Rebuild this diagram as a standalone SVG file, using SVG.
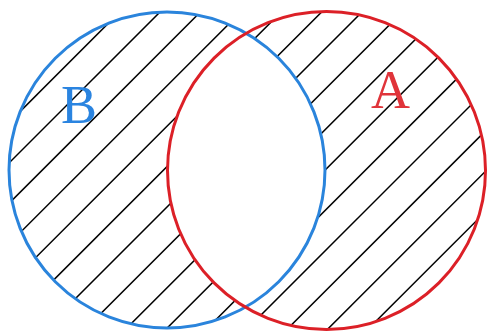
<svg xmlns="http://www.w3.org/2000/svg" width="488" height="331" viewBox="0 0 488 331">
  <style>
    .hatch line { stroke: #000; stroke-width: 1.5; }
    .label { font-family: "Liberation Serif", "Times New Roman", serif; font-size: 54px; }
  </style>
  <defs>
    <clipPath id="symdiff">
      <path clip-rule="evenodd" d="M 9,170 A 158,158 0 1,0 325,170 A 158,158 0 1,0 9,170 Z M 167.5,170.5 A 159,159 0 1,0 485.5,170.5 A 159,159 0 1,0 167.5,170.5 Z"/>
    </clipPath>
  </defs>
  <rect width="488" height="331" fill="#fff"/>
  <g id="hatching" class="hatch" clip-path="url(#symdiff)">
    <line x1="-208.4" y1="340" x2="141.6" y2="-10"/>
    <line x1="-168" y1="340" x2="182" y2="-10"/>
    <line x1="-127.6" y1="340" x2="222.4" y2="-10"/>
    <line x1="-87.2" y1="340" x2="262.8" y2="-10"/>
    <line x1="-46.8" y1="340" x2="303.2" y2="-10"/>
    <line x1="-6.4" y1="340" x2="343.6" y2="-10"/>
    <line x1="34" y1="340" x2="384" y2="-10"/>
    <line x1="74.4" y1="340" x2="424.4" y2="-10"/>
    <line x1="114.8" y1="340" x2="464.8" y2="-10"/>
    <line x1="155.2" y1="340" x2="505.2" y2="-10"/>
    <line x1="195.6" y1="340" x2="545.6" y2="-10"/>
    <line x1="236" y1="340" x2="586" y2="-10"/>
    <line x1="276.4" y1="340" x2="626.4" y2="-10"/>
    <line x1="316.8" y1="340" x2="666.8" y2="-10"/>
    <line x1="357.2" y1="340" x2="707.2" y2="-10"/>
  </g>
  <g id="setB">
    <circle cx="167" cy="170" r="158" fill="none" stroke="#2a84dc" stroke-width="3"/>
    <text class="label" x="61" y="123" fill="#2a84e0">B</text>
  </g>
  <g id="setA">
    <circle cx="326.5" cy="170.5" r="159" fill="none" stroke="#dc2027" stroke-width="3"/>
    <text class="label" x="371" y="108" fill="#e0343a">A</text>
  </g>
</svg>
